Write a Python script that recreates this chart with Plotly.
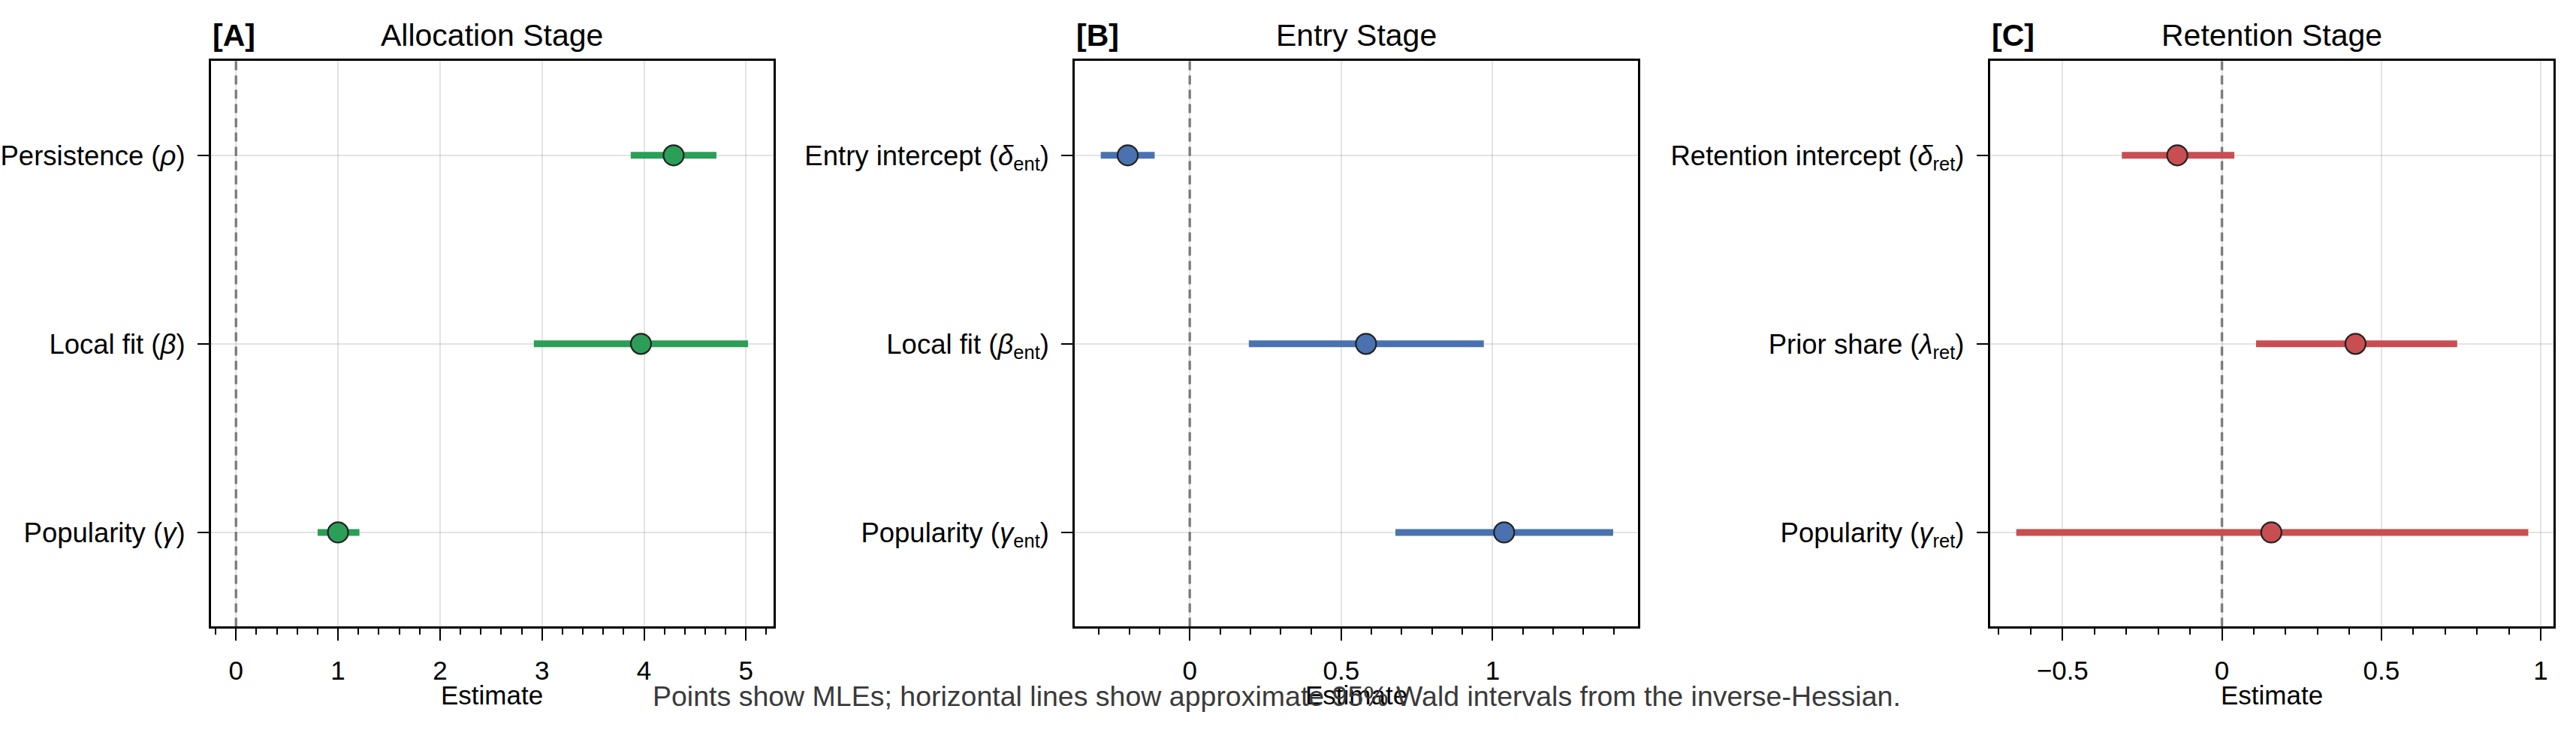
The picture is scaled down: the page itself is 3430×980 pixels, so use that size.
import plotly.graph_objects as go

# ---------------- data ----------------
panel_tags = ["[A]", "[B]", "[C]"]
panel_titles = ["Allocation Stage", "Entry Stage", "Retention Stage"]

alloc_labels = ["Persistence (<i>ρ</i>)", "Local fit (<i>β</i>)", "Popularity (<i>γ</i>)"]
alloc_est = [4.29, 3.97, 1.00]
alloc_lo = [3.87, 2.92, 0.80]
alloc_hi = [4.71, 5.02, 1.21]

entry_labels = ["Entry intercept (<i>δ</i><sub>ent</sub>)", "Local fit (<i>β</i><sub>ent</sub>)",
                "Popularity (<i>γ</i><sub>ent</sub>)"]
entry_est = [-0.205, 0.582, 1.038]
entry_lo = [-0.294, 0.195, 0.679]
entry_hi = [-0.116, 0.971, 1.398]

ret_labels = ["Retention intercept (<i>δ</i><sub>ret</sub>)", "Prior share (<i>λ</i><sub>ret</sub>)",
              "Popularity (<i>γ</i><sub>ret</sub>)"]
ret_est = [-0.140, 0.419, 0.155]
ret_lo = [-0.314, 0.107, -0.645]
ret_hi = [0.039, 0.738, 0.961]

alloc_ticks = [0, 1, 2, 3, 4, 5]
alloc_ticktext = ["0", "1", "2", "3", "4", "5"]
entry_ticks = [0, 0.5, 1]
entry_ticktext = ["0", "0.5", "1"]
ret_ticks = [-0.5, 0, 0.5, 1]
ret_ticktext = ["−0.5", "0", "0.5", "1"]

colors = ["#2B9E57", "#4A72B0", "#C84E52"]
footnote = "Points show MLEs; horizontal lines show approximate 95% Wald intervals from the inverse-Hessian."
xlabel = "Estimate"

# ---------------- layout constants ----------------
W, H = 3430, 980
FONT = "Liberation Sans, Arial, Helvetica, sans-serif"
x_domains = [(280.6 / W, 1030 / W), (1431 / W, 2181 / W), (2649.5 / W, 3400 / W)]
y_domain = (1 - 834.4 / H, 1 - 81.25 / H)
x_ranges = [(-0.248, 5.27), (-0.38, 1.48), (-0.728, 1.04)]
minor_dt = [0.2, 0.1, 0.1]

panels = [
    (alloc_labels, alloc_est, alloc_lo, alloc_hi, alloc_ticks, alloc_ticktext),
    (entry_labels, entry_est, entry_lo, entry_hi, entry_ticks, entry_ticktext),
    (ret_labels, ret_est, ret_lo, ret_hi, ret_ticks, ret_ticktext),
]

fig = go.Figure()

for i, (labels, est, lo, hi, tv, tt) in enumerate(panels):
    xa = "x" if i == 0 else f"x{i+1}"
    ya = "y" if i == 0 else f"y{i+1}"
    rows = list(range(len(labels)))
    # interval lines
    lx, ly = [], []
    for r, a, b in zip(rows, lo, hi):
        lx += [a, b, None]
        ly += [r, r, None]
    fig.add_trace(go.Scatter(x=lx, y=ly, mode="lines",
                             line=dict(color=colors[i], width=9),
                             xaxis=xa, yaxis=ya, showlegend=False, hoverinfo="skip"))
    fig.add_trace(go.Scatter(x=est, y=rows, mode="markers",
                             marker=dict(size=27, color=colors[i],
                                         line=dict(color="#222222", width=2.2)),
                             xaxis=xa, yaxis=ya, showlegend=False))
    # zero reference line
    fig.add_shape(type="line", xref=xa, yref=f"{ya} domain", x0=0, x1=0, y0=0, y1=1,
                  line=dict(color="#8a8a8a", width=3.5, dash="12px,7px"), layer="below")

    axkey_x = "xaxis" if i == 0 else f"xaxis{i+1}"
    axkey_y = "yaxis" if i == 0 else f"yaxis{i+1}"
    fig.update_layout({
        axkey_x: dict(domain=list(x_domains[i]), range=list(x_ranges[i]), anchor=ya,
                      automargin=False,
                      tickvals=tv, ticktext=tt, ticks="outside", ticklen=16, tickwidth=2,
                      tickcolor="black", showline=True, linecolor="black", linewidth=2.5,
                      mirror=True, showgrid=True, gridcolor="rgba(0,0,0,0.11)", gridwidth=2,
                      zeroline=False, tickfont=dict(size=35, color="black", family=FONT),
                      ticklabelstandoff=10,
                      minor=dict(dtick=minor_dt[i], tick0=0, ticks="outside", ticklen=8,
                                 tickwidth=2, tickcolor="black", showgrid=False)),
        axkey_y: dict(domain=list(y_domain), range=[2.5, -0.5], anchor=xa,
                      automargin=False,
                      tickvals=rows, ticktext=labels, ticks="outside", ticklen=15, tickwidth=2,
                      tickcolor="black", showline=True, linecolor="black", linewidth=2.5,
                      mirror=True, showgrid=True, gridcolor="rgba(0,0,0,0.11)", gridwidth=2,
                      zeroline=False, tickfont=dict(size=36.5, color="black", family=FONT),
                      ticklabelstandoff=9),
    })

    x0, x1 = x_domains[i]
    fig.add_annotation(text=panel_titles[i], xref="paper", yref="paper",
                       x=(x0 + x1) / 2, y=1 - 47 / H, xanchor="center", yanchor="middle",
                       showarrow=False, font=dict(size=41, color="black", family=FONT))
    fig.add_annotation(text="<b>" + panel_tags[i] + "</b>", xref="paper", yref="paper",
                       x=x0, y=1 - 47 / H, xanchor="left", yanchor="middle",
                       showarrow=False, font=dict(size=41, color="black", family=FONT))
    fig.add_annotation(text=xlabel, xref="paper", yref="paper",
                       x=(x0 + x1) / 2, y=1 - 925 / H, xanchor="center", yanchor="middle",
                       showarrow=False, font=dict(size=35, color="black", family=FONT))

fig.add_annotation(text=footnote, xref="paper", yref="paper", x=1700 / W, y=1 - 927 / H,
                   xanchor="center", yanchor="middle", showarrow=False,
                   font=dict(size=37.5, color="#3a3a3a", family=FONT))

fig.update_layout(width=W, height=H, margin=dict(l=0, r=0, t=0, b=0),
                  paper_bgcolor="white", plot_bgcolor="white",
                  font=dict(family=FONT, color="black"))

fig.write_html("out.html")
